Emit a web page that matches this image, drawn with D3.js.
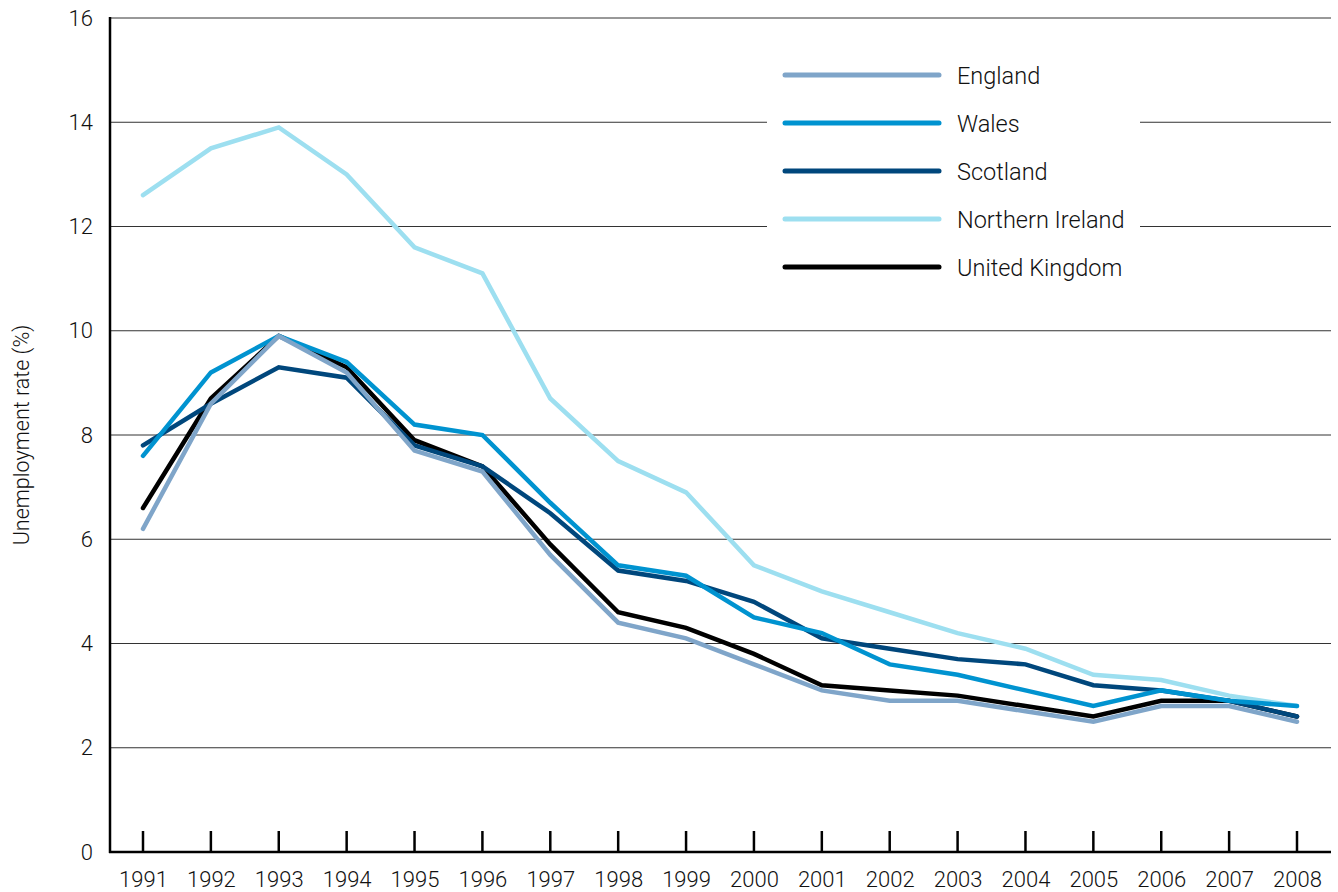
<!DOCTYPE html>
<html><head><meta charset="utf-8">
<script src="https://cdn.jsdelivr.net/npm/d3@7"></script>
<style>body{margin:0;background:#fff}svg{display:block}text{font-family:Roboto,"Liberation Sans",sans-serif;font-weight:300;fill:#111}</style>
</head><body><svg id="c" width="1338" height="892"></svg>
<script>
const years = [1991,1992,1993,1994,1995,1996,1997,1998,1999,2000,2001,2002,2003,2004,2005,2006,2007,2008];
const england  = [6.2,8.6,9.9,9.2,7.7,7.3,5.7,4.4,4.1,3.6,3.1,2.9,2.9,2.7,2.5,2.8,2.8,2.5];
const wales    = [7.6,9.2,9.9,9.4,8.2,8.0,6.7,5.5,5.3,4.5,4.2,3.6,3.4,3.1,2.8,3.1,2.9,2.8];
const scotland = [7.8,8.6,9.3,9.1,7.8,7.4,6.5,5.4,5.2,4.8,4.1,3.9,3.7,3.6,3.2,3.1,2.9,2.6];
const nireland = [12.6,13.5,13.9,13.0,11.6,11.1,8.7,7.5,6.9,5.5,5.0,4.6,4.2,3.9,3.4,3.3,3.0,2.8];
const uk       = [6.6,8.7,9.9,9.3,7.9,7.4,5.9,4.6,4.3,3.8,3.2,3.1,3.0,2.8,2.6,2.9,2.9,2.6];
const seriesNames = ["England","Wales","Scotland","Northern Ireland","United Kingdom"];
const seriesValues = [england, wales, scotland, nireland, uk];
const seriesColors = ["#7fa5c9","#0093d0","#00477c","#9ddff0","#000000"];
const yTicks = [0,2,4,6,8,10,12,14,16];
const yLabel = "Unemployment rate (%)";

const svg = d3.select("#c");
const x0 = 110, x1 = 1331, yTop = 18, yBot = 852;
const x = d3.scaleLinear().domain([1991,2008]).range([143,1297]);
const y = d3.scaleLinear().domain([0,16]).range([yBot,yTop]);

// gridlines
svg.append("g").selectAll("line").data(yTicks.filter(d=>d>0)).join("line")
  .attr("x1",x0).attr("x2",x1).attr("y1",d=>y(d)).attr("y2",d=>y(d))
  .attr("stroke","#333").attr("stroke-width",1);

// y axis labels
const ya = svg.append("g").attr("transform",`translate(${x0},0)`)
  .call(d3.axisLeft(y).tickValues(yTicks).tickSize(0).tickPadding(17).tickFormat(d3.format("d")));
ya.select(".domain").remove();
ya.selectAll("text").style("font-size","22px").attr("font-family",null);

// x axis
const xa = svg.append("g").attr("transform",`translate(0,${yBot})`)
  .call(d3.axisBottom(x).tickValues(years).tickSize(0).tickPadding(19).tickFormat(d3.format("d")));
xa.select(".domain").remove();
xa.selectAll("text").style("font-size","22px").attr("font-family",null);
svg.append("g").selectAll("line").data(years).join("line")
  .attr("x1",d=>x(d)).attr("x2",d=>x(d)).attr("y1",yBot-21).attr("y2",yBot)
  .attr("stroke","#000").attr("stroke-width",2.5);

// axes lines
svg.append("line").attr("x1",x0).attr("x2",x0).attr("y1",yTop-1).attr("y2",yBot+1).attr("stroke","#000").attr("stroke-width",2.5);
svg.append("line").attr("x1",x0-1).attr("x2",x1).attr("y1",yBot).attr("y2",yBot).attr("stroke","#000").attr("stroke-width",2.5);

// y label
svg.append("text").attr("transform",`translate(29,${(yTop+yBot)/2}) rotate(-90)`)
  .attr("text-anchor","middle").style("font-size","21.5px").text(yLabel);

// lines
const line = d3.line().x((d,i)=>x(years[i])).y(d=>y(d));
const order = [4,3,2,1,0];
svg.append("g").selectAll("path").data(order).join("path")
  .attr("d",i=>line(seriesValues[i])).attr("fill","none")
  .attr("stroke",i=>seriesColors[i]).attr("stroke-width",4.5)
  .attr("stroke-linejoin","miter").attr("stroke-linecap","round");

// legend
const lg = svg.append("g");
lg.append("rect").attr("x",767).attr("y",50).attr("width",373).attr("height",240).attr("fill","#fff");
const items = lg.selectAll("g.it").data(seriesNames).join("g").attr("class","it")
  .attr("transform",(d,i)=>`translate(0,${75+i*48})`);
items.append("line").attr("x1",785).attr("x2",939).attr("y1",0).attr("y2",0)
  .attr("stroke",(d,i)=>seriesColors[i]).attr("stroke-width",5).attr("stroke-linecap","round");
items.append("text").attr("x",957).attr("y",8.5).style("font-size","23.5px").text(d=>d);
</script></body></html>
